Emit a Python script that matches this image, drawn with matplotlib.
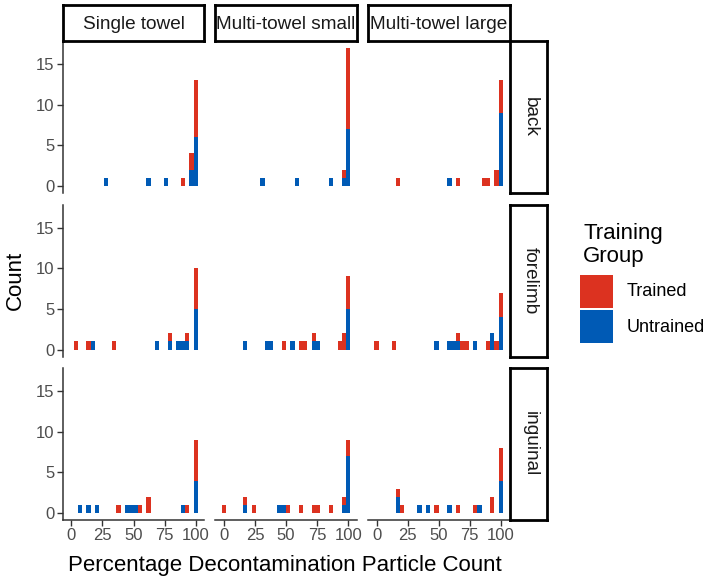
import numpy as np
import matplotlib
matplotlib.use("Agg")
import matplotlib.pyplot as plt
from matplotlib.patches import Rectangle

plt.rcParams['font.family'] = ['Liberation Sans', 'DejaVu Sans']

methods = ["Single towel", "Multi-towel small", "Multi-towel large"]
regions = ["back", "forelimb", "inguinal"]
group_labels = ["Trained", "Untrained"]
group_colors = ["#DC3220", "#005AB5"]
x_ticks = [0, 25, 50, 75, 100]
y_ticks = [0, 5, 10, 15]

# Percentage decontamination values (one entry per observation)
back_single_trained = [89.7, 96.6, 96.6] + [100] * 7
back_single_untrained = [27.6, 62.1, 75.9, 96.6, 96.6] + [100] * 6
back_msmall_trained = [96.6] + [100] * 10
back_msmall_untrained = [31.0, 58.6, 86.2, 96.6] + [100] * 7
back_mlarge_trained = [17.2, 65.5, 86.2, 89.7, 96.6, 96.6] + [100] * 4
back_mlarge_untrained = [58.6] + [100] * 9

fore_single_trained = [3.4, 13.8, 34.5, 79.3, 93.1] + [100] * 5
fore_single_untrained = [17.2, 69.0, 79.3, 86.2, 89.7, 93.1] + [100] * 5
fore_msmall_trained = [48.3, 62.1, 65.5, 72.4, 93.1, 96.6, 96.6] + [100] * 4
fore_msmall_untrained = [17.2, 34.5, 37.9, 55.2, 72.4, 75.9] + [100] * 5
fore_mlarge_trained = [0.0, 13.8, 65.5, 69.0, 72.4, 89.7, 96.6] + [100] * 3
fore_mlarge_untrained = [48.3, 58.6, 62.1, 65.5, 79.3, 93.1, 93.1] + [100] * 4

ingu_single_trained = [37.9, 55.2, 62.1, 62.1, 93.1] + [100] * 5
ingu_single_untrained = [6.9, 13.8, 20.7, 44.8, 48.3, 51.7, 89.7] + [100] * 4
ingu_msmall_trained = [0.0, 17.2, 24.1, 51.7, 62.1, 72.4, 75.9, 86.2, 96.6] + [100] * 2
ingu_msmall_untrained = [17.2, 44.8, 48.3, 96.6] + [100] * 7
ingu_mlarge_trained = [17.2, 20.7, 48.3, 65.5, 79.3, 93.1, 93.1] + [100] * 4
ingu_mlarge_untrained = [17.2, 17.2, 34.5, 41.4, 58.6, 82.8] + [100] * 4

panel_data = {
    ("back", "Single towel"): (back_single_trained, back_single_untrained),
    ("back", "Multi-towel small"): (back_msmall_trained, back_msmall_untrained),
    ("back", "Multi-towel large"): (back_mlarge_trained, back_mlarge_untrained),
    ("forelimb", "Single towel"): (fore_single_trained, fore_single_untrained),
    ("forelimb", "Multi-towel small"): (fore_msmall_trained, fore_msmall_untrained),
    ("forelimb", "Multi-towel large"): (fore_mlarge_trained, fore_mlarge_untrained),
    ("inguinal", "Single towel"): (ingu_single_trained, ingu_single_untrained),
    ("inguinal", "Multi-towel small"): (ingu_msmall_trained, ingu_msmall_untrained),
    ("inguinal", "Multi-towel large"): (ingu_mlarge_trained, ingu_mlarge_untrained),
}

W, H = 713, 582
fig = plt.figure(figsize=(W / 100, H / 100), dpi=100)
fig.patch.set_facecolor("white")


def ax_px(x, y, w, h):
    return fig.add_axes([x / W, 1 - (y + h) / H, w / W, h / H])


col_x = [62.8, 215.3, 368.0]
pw = 141.5
row_y = [40.7, 204.5, 368.0]
ph = 152.0

bw = 100 / 29
edges = -bw / 2 + bw * np.arange(31)

tick_col = "#4D4D4D"
for i, reg in enumerate(regions):
    for j, m in enumerate(methods):
        ax = ax_px(col_x[j], row_y[i], pw, ph)
        tr, un = panel_data[(reg, m)]
        ax.hist([un, tr], bins=edges, stacked=True,
                color=[group_colors[1], group_colors[0]],
                edgecolor="none", linewidth=0)
        ax.set_xlim(-6.9, 106.9)
        ax.set_ylim(-0.85, 17.85)
        ax.set_xticks(x_ticks)
        ax.set_yticks(y_ticks)
        for s in ["top", "right"]:
            ax.spines[s].set_visible(False)
        ax.spines["left"].set_visible(j == 0)
        ax.spines["bottom"].set_visible(i == 2)
        for s in ["left", "bottom"]:
            ax.spines[s].set_linewidth(1.1)
            ax.spines[s].set_color("#333333")
        ax.tick_params(axis="both", length=4, width=1.0, color="#333333",
                       labelsize=12, labelcolor=tick_col, pad=2)
        if j > 0:
            ax.tick_params(axis="y", left=False, labelleft=False)
        if i < 2:
            ax.tick_params(axis="x", bottom=False, labelbottom=False)
        ax.set_facecolor("white")

# top strips
for j, m in enumerate(methods):
    s = ax_px(col_x[j], 5.0, pw, 35.7)
    s.set_xticks([]); s.set_yticks([])
    s.set_xlim(0, 1); s.set_ylim(0, 1)
    for sp in s.spines.values():
        sp.set_linewidth(2); sp.set_color("black")
    s.text(0.5, 0.44, m, ha="center", va="center", fontsize=13.7,
           color="#1A1A1A", clip_on=True)

# right strips
for i, reg in enumerate(regions):
    s = ax_px(510.0, row_y[i], 37, ph)
    s.set_xticks([]); s.set_yticks([])
    s.set_xlim(0, 1); s.set_ylim(0, 1)
    for sp in s.spines.values():
        sp.set_linewidth(2); sp.set_color("black")
    s.text(0.55, 0.5, reg, ha="center", va="center", fontsize=13.7,
           rotation=-90, color="#1A1A1A", clip_on=True)

# axis titles
fig.text(285 / W, 1 - 566 / H, "Percentage Decontamination Particle Count",
         ha="center", va="center", fontsize=16, color="black")
fig.text(15 / W, 1 - 280 / H, "Count", ha="center", va="center",
         fontsize=16, rotation=90, color="black")

# legend
fig.text(583 / W, 1 - 245 / H, "Training\nGroup", ha="left", va="center",
         fontsize=16, linespacing=1.12, color="black")
key_y = [275, 310]
for k, (lab, col) in enumerate(zip(group_labels, group_colors)):
    fig.add_artist(Rectangle((580 / W, 1 - (key_y[k] + 33) / H), 33 / W, 33 / H,
                             transform=fig.transFigure, facecolor=col,
                             edgecolor="none"))
    fig.text(627 / W, 1 - (key_y[k] + 17) / H, lab, ha="left", va="center",
             fontsize=13, color="black")

fig.savefig("out.png", dpi=100)
